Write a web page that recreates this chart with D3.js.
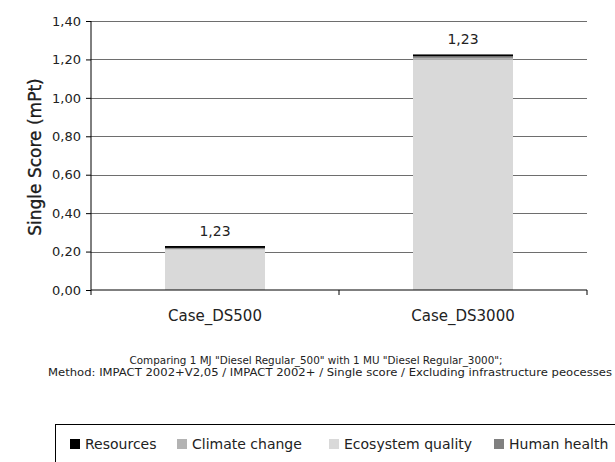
<!DOCTYPE html>
<html><head><meta charset="utf-8">
<script src="https://cdn.jsdelivr.net/npm/d3@7"></script>
<style>body{margin:0;background:#fff}svg{display:block}text{font-family:"DejaVu Sans",sans-serif;fill:#222}</style>
</head><body><svg id="c" width="615" height="462"></svg>
<script>
const categories = ["Case_DS500", "Case_DS3000"];
const seriesNames = ["Ecosystem quality", "Climate change", "Human health", "Resources"];
const ecosystemQuality = [0.210, 1.200];
const climateChange = [0.004, 0.008];
const humanHealth = [0.005, 0.008];
const resources = [0.010, 0.010];
const totalLabels = ["1,23", "1,23"];
const yTicks = [0, 0.2, 0.4, 0.6, 0.8, 1.0, 1.2, 1.4];
const legendOrder = ["Resources", "Climate change", "Ecosystem quality", "Human health"];
const colors = {"Resources":"#000000","Climate change":"#b3b3b3","Ecosystem quality":"#d9d9d9","Human health":"#808080"};
const caption = ["Comparing 1 MJ \"Diesel Regular_500\" with 1 MU \"Diesel Regular_3000\";",
  "Method: IMPACT 2002+V2,05 / IMPACT 2002+ / Single score / Excluding infrastructure peocesses"];

const rows = categories.map((c,i)=>({cat:c,"Ecosystem quality":ecosystemQuality[i],"Climate change":climateChange[i],"Human health":humanHealth[i],"Resources":resources[i],label:totalLabels[i]}));
const svg = d3.select("#c");
const L=91,R=587,T=21,B=290;
const x = d3.scaleBand().domain(categories).range([L,R]).padding(0);
const y = d3.scaleLinear().domain([0,1.4]).range([B,T]);
const fmt = d => d3.format(".2f")(d).replace(".", ",");

// gridlines
svg.append("g").selectAll("line").data(yTicks.slice(1)).join("line")
  .attr("x1",L).attr("x2",R).attr("y1",d=>Math.round(y(d))+0.5).attr("y2",d=>Math.round(y(d))+0.5)
  .attr("stroke","#6e6e6e").attr("stroke-width",1);

// bars
const stack = d3.stack().keys(seriesNames)(rows);
const bw = 100;
svg.append("g").selectAll("g").data(stack).join("g").attr("fill",d=>colors[d.key])
  .selectAll("rect").data(d=>d).join("rect")
  .attr("x",d=>x(d.data.cat)+x.bandwidth()/2-bw/2).attr("width",bw)
  .attr("y",d=>y(d[1])).attr("height",d=>y(d[0])-y(d[1]));

// labels
svg.append("g").selectAll("text").data(rows).join("text")
  .attr("x",d=>x(d.cat)+x.bandwidth()/2)
  .attr("y",d=>y(d3.sum(seriesNames,k=>d[k]))-10)
  .attr("text-anchor","middle").attr("font-size",14).text(d=>d.label);

// y axis
const ya = svg.append("g").attr("transform",`translate(${L},0)`)
  .call(d3.axisLeft(y).tickValues(yTicks).tickFormat(fmt).tickSize(5).tickPadding(5));
ya.select(".domain").attr("stroke","#000").attr("d",`M-0,${B}V${T}`);
ya.selectAll(".tick line").attr("stroke","#000");
ya.selectAll(".tick text").attr("font-size",13).attr("font-family","DejaVu Sans").attr("fill","#222");

// x axis
const xa = svg.append("g").attr("transform",`translate(0,${B})`)
  .call(d3.axisBottom(x).tickSize(0).tickPadding(20));
xa.select(".domain").attr("stroke","#000").attr("d",`M${L},0H${R}`);
xa.selectAll(".tick text").attr("font-size",15).attr("font-family","DejaVu Sans").attr("fill","#111");
svg.append("g").selectAll("line").data([L,(L+R)/2,R]).join("line")
  .attr("x1",d=>d).attr("x2",d=>d).attr("y1",B).attr("y2",B+5).attr("stroke","#000");

// y title
svg.append("text").attr("transform","translate(41,157) rotate(-90)").attr("text-anchor","middle")
  .attr("font-size",17).attr("fill","#000").attr("stroke","#000").attr("stroke-width",0.3).text("Single Score (mPt)");

// caption
svg.append("text").attr("x",316).attr("y",364).attr("text-anchor","middle").attr("font-size",10.5)
  .attr("textLength",373).attr("lengthAdjust","spacingAndGlyphs").text(caption[0]);
svg.append("text").attr("x",330).attr("y",376).attr("text-anchor","middle").attr("font-size",10.5)
  .attr("textLength",564).attr("lengthAdjust","spacingAndGlyphs").text(caption[1]);

// legend
svg.append("rect").attr("x",55.5).attr("y",424.5).attr("width",600).attr("height",60).attr("fill","none").attr("stroke","#000");
const lx = [70,177,329,494];
const lg = svg.append("g").selectAll("g").data(legendOrder).join("g").attr("transform",(d,i)=>`translate(${lx[i]},439)`);
lg.append("rect").attr("width",10).attr("height",10).attr("fill",d=>colors[d]);
lg.append("text").attr("x",15).attr("y",10).attr("font-size",14).attr("fill","#111").text(d=>d);
</script></body></html>
